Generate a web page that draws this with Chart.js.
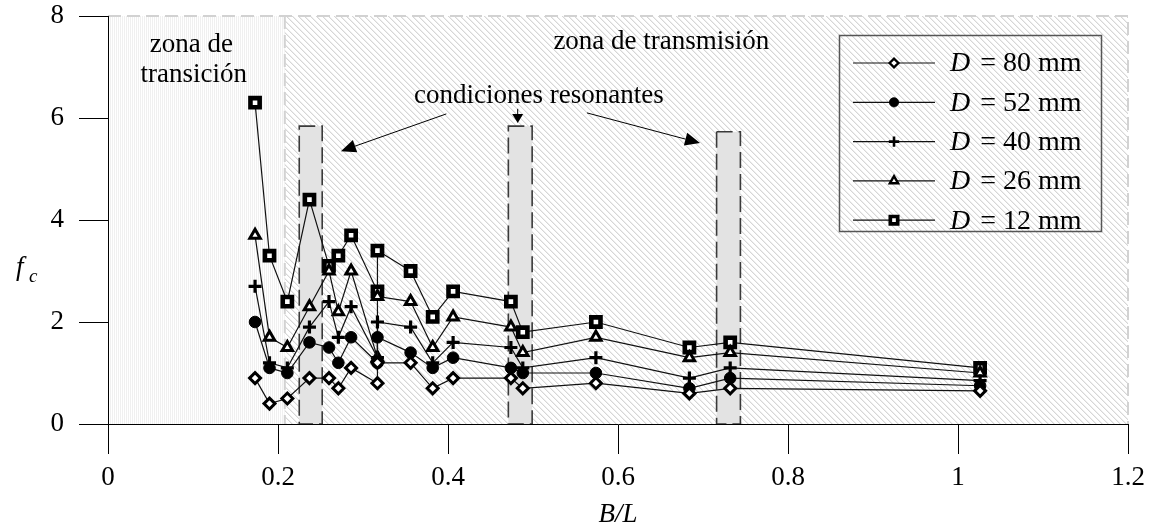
<!DOCTYPE html>
<html>
<head>
<meta charset="utf-8">
<script src="https://cdn.jsdelivr.net/npm/chart.js@4.4.1/dist/chart.umd.min.js"></script>
<style>
  html, body { margin: 0; padding: 0; background: #fff; }
  #wrap { width: 1151px; height: 530px; position: relative; }
</style>
</head>
<body>
<div id="wrap"><canvas id="chart"></canvas></div>
<script>
// Relative width B/L of each test and the measured factor f_c per pipe diameter
const bL    = [0.173, 0.190, 0.211, 0.237, 0.260, 0.271, 0.286, 0.317, 0.317, 0.356, 0.382, 0.406, 0.474, 0.488, 0.574, 0.684, 0.732, 1.026];
const fcD80 = [0.9, 0.4, 0.5, 0.9, 0.9, 0.7, 1.1, 0.8, 1.2, 1.2, 0.7, 0.9, 0.9, 0.7, 0.8, 0.6, 0.7, 0.65];
const fcD52 = [2.0, 1.1, 1.0, 1.6, 1.5, 1.2, 1.7, 1.2, 1.7, 1.4, 1.1, 1.3, 1.1, 1.0, 1.0, 0.7, 0.9, 0.75];
const fcD40 = [2.7, 1.2, 1.1, 1.9, 2.4, 1.7, 2.3, 1.3, 2.0, 1.9, 1.2, 1.6, 1.5, 1.1, 1.3, 0.9, 1.1, 0.85];
const fcD26 = [3.7, 1.7, 1.5, 2.3, 3.0, 2.2, 3.0, 1.3, 2.5, 2.4, 1.5, 2.1, 1.9, 1.4, 1.7, 1.3, 1.4, 1.0];
const fcD12 = [6.3, 3.3, 2.4, 4.4, 3.1, 3.3, 3.7, 2.6, 3.4, 3.0, 2.1, 2.6, 2.4, 1.8, 2.0, 1.5, 1.6, 1.1];
const seriesNames = ['80 mm', '52 mm', '40 mm', '26 mm', '12 mm'];

const xTickLabels = ['0', '0.2', '0.4', '0.6', '0.8', '1', '1.2'];
const yTickLabels = ['0', '2', '4', '6', '8'];

// Limit between the transition zone and the transmission zone (B/L)
const transitionLimit = 0.208;
// Resonant condition bands: B/L from, B/L to, top f_c
const resonantFrom = [0.225, 0.471, 0.716];
const resonantTo   = [0.252, 0.499, 0.744];
const resonantTop  = [5.84, 5.84, 5.73];

const SERIF = '"Liberation Serif", "Times New Roman", serif';

const markers = [
  { pointStyle: 'rectRot',  radius: 5.5, fill: '#fff', border: 3 },
  { pointStyle: 'circle',   radius: 5.8, fill: '#000', border: 1 },
  { pointStyle: 'cross',    radius: 6.5, fill: '#000', border: 3.2 },
  { pointStyle: 'triangle', radius: 6,   fill: '#fff', border: 3 },
  { pointStyle: 'rect',     radius: 6.5, fill: '#fff', border: 4.6 }
];
const values = [fcD80, fcD52, fcD40, fcD26, fcD12];

const datasets = values.map((vals, i) => ({
  label: 'D = ' + seriesNames[i],
  data: bL.map((x, k) => ({ x: x, y: vals[k] })),
  borderColor: '#111',
  borderWidth: 1.2,
  pointStyle: markers[i].pointStyle,
  pointRadius: markers[i].radius,
  pointHoverRadius: markers[i].radius,
  pointBackgroundColor: markers[i].fill,
  pointBorderColor: '#000',
  pointBorderWidth: markers[i].border,
  fill: false,
  tension: 0
}));

function verticalHatch(ctx) {
  const c = document.createElement('canvas');
  c.width = 2; c.height = 2;
  const p = c.getContext('2d');
  p.fillStyle = '#fff'; p.fillRect(0, 0, 2, 2);
  p.fillStyle = '#f0f0f0'; p.fillRect(0, 0, 1, 2);
  return ctx.createPattern(c, 'repeat');
}

function diagonalHatch(ctx) {
  const n = 6;
  const c = document.createElement('canvas');
  c.width = n; c.height = n;
  const p = c.getContext('2d');
  p.fillStyle = '#fff'; p.fillRect(0, 0, n, n);
  for (let i = 0; i < n; i++) {
    p.fillStyle = '#d6d6d6'; p.fillRect(i, i, 1, 1);
    p.fillStyle = '#eeeeee'; p.fillRect((i + 1) % n, i, 1, 1);
  }
  return ctx.createPattern(c, 'repeat');
}

function arrow(ctx, x0, y0, x1, y1, len, half) {
  const ang = Math.atan2(y1 - y0, x1 - x0);
  const bx = x1 - len * Math.cos(ang), by = y1 - len * Math.sin(ang);
  ctx.beginPath();
  ctx.moveTo(x0, y0);
  ctx.lineTo(bx, by);
  ctx.stroke();
  ctx.beginPath();
  ctx.moveTo(x1, y1);
  ctx.lineTo(bx + half * Math.sin(ang), by - half * Math.cos(ang));
  ctx.lineTo(bx - half * Math.sin(ang), by + half * Math.cos(ang));
  ctx.closePath();
  ctx.fill();
}

// Zones, resonant bands and dashed frame, painted under the axes and series
const backdrop = {
  id: 'backdrop',
  beforeDraw(chart) {
    const { ctx, chartArea: a, scales: { x, y } } = chart;
    const xb = x.getPixelForValue(transitionLimit);
    const yTop = y.getPixelForValue(8), yBot = y.getPixelForValue(0);
    const xEnd = x.getPixelForValue(1.2);
    ctx.save();
    ctx.fillStyle = verticalHatch(ctx);
    ctx.fillRect(a.left, yTop, xb - a.left, yBot - yTop);
    ctx.fillStyle = diagonalHatch(ctx);
    ctx.fillRect(xb, yTop, xEnd - xb, yBot - yTop);

    for (let i = 0; i < resonantFrom.length; i++) {
      const l = x.getPixelForValue(resonantFrom[i]);
      const r = x.getPixelForValue(resonantTo[i]);
      const t = y.getPixelForValue(resonantTop[i]);
      ctx.fillStyle = '#e3e3e3';
      ctx.fillRect(l, t, r - l, yBot - t);
      ctx.setLineDash([16, 6]);
      ctx.strokeStyle = '#3a3a3a';
      ctx.lineWidth = 1.6;
      ctx.strokeRect(l, t, r - l, yBot - t);
    }

    ctx.setLineDash([13, 6]);
    ctx.strokeStyle = '#d2d2d2';
    ctx.lineWidth = 2;
    ctx.beginPath();
    ctx.moveTo(a.left, yTop);
    ctx.lineTo(xEnd, yTop);
    ctx.lineTo(xEnd, yBot);
    ctx.moveTo(xb, yTop);
    ctx.lineTo(xb, yBot);
    ctx.stroke();
    ctx.restore();
  }
};

// Zone labels, arrows, axis titles and the legend box
const overlay = {
  id: 'overlay',
  afterDraw(chart) {
    const { ctx, chartArea: a, scales: { x, y } } = chart;
    const px = v => x.getPixelForValue(v);
    const py = v => y.getPixelForValue(v);
    ctx.save();
    ctx.fillStyle = '#000';
    ctx.strokeStyle = '#000';
    ctx.textAlign = 'center';
    ctx.textBaseline = 'middle';
    ctx.font = '27px ' + SERIF;
    ctx.fillText('zona de', px(0.098), py(7.43));
    ctx.fillText('transición', px(0.101), py(6.84));
    ctx.fillText('zona de transmisión', px(0.651), py(7.49));
    ctx.fillText('condiciones resonantes', px(0.507), py(6.43));

    ctx.lineWidth = 1;
    arrow(ctx, px(0.398), py(6.08), px(0.274), py(5.35), 15, 6.5);
    arrow(ctx, px(0.482), py(6.18), px(0.482), py(5.90), 9, 5.5);
    arrow(ctx, px(0.5635), py(6.10), px(0.6965), py(5.51), 15, 6.5);

    // axis titles
    ctx.font = 'italic 27px ' + SERIF;
    ctx.fillText('B/L', (a.left + a.right) / 2, 515);
    ctx.textAlign = 'left';
    ctx.fillText('f', 16, 268);
    ctx.font = 'italic 19px ' + SERIF;
    ctx.fillText('c', 29, 277);

    // legend
    const bx = 839.5, by = 35.5, bw = 262, bh = 196;
    ctx.setLineDash([]);
    ctx.strokeStyle = '#555';
    ctx.lineWidth = 1.5;
    ctx.strokeRect(bx, by, bw, bh);
    chart.data.datasets.forEach((ds, i) => {
      const ry = 63 + i * 39.3;
      ctx.strokeStyle = ds.borderColor;
      ctx.lineWidth = ds.borderWidth;
      ctx.beginPath();
      ctx.moveTo(853, ry);
      ctx.lineTo(935, ry);
      ctx.stroke();
      ctx.fillStyle = ds.pointBackgroundColor;
      ctx.strokeStyle = ds.pointBorderColor;
      ctx.lineWidth = ds.pointBorderWidth * 0.8;
      Chart.helpers.drawPoint(ctx, {
        pointStyle: ds.pointStyle, radius: ds.pointRadius * 0.8,
        rotation: 0, borderWidth: ds.pointBorderWidth * 0.8
      }, 894, ry);
      ctx.fillStyle = '#000';
      ctx.textAlign = 'left';
      ctx.font = 'italic 28px ' + SERIF;
      ctx.fillText('D', 950, ry + 1);
      const dw = ctx.measureText('D').width;
      ctx.font = '28px ' + SERIF;
      ctx.fillText(' = ' + seriesNames[i], 950 + dw + 3, ry + 1);
    });
    ctx.restore();
  }
};

new Chart(document.getElementById('chart'), {
  type: 'line',
  data: { datasets: datasets },
  plugins: [backdrop, overlay],
  options: {
    responsive: true,
    maintainAspectRatio: false,
    animation: false,
    layout: { padding: { top: 0, right: 0, left: 0, bottom: 0 } },
    plugins: { legend: { display: false }, tooltip: { enabled: false } },
    scales: {
      x: {
        type: 'linear',
        min: 0, max: 1.2,
        afterFit(scale) {
          scale.height = 106;
          scale.paddingLeft = 0;
          scale.paddingRight = 23;
        },
        afterBuildTicks(scale) { scale.ticks = xTickLabels.map(t => ({ value: parseFloat(t) })); },
        ticks: {
          callback: (v, i) => xTickLabels[i],
          color: '#000',
          padding: 8,
          maxRotation: 0,
          font: { family: SERIF, size: 27 }
        },
        grid: { drawOnChartArea: false, drawTicks: true, tickLength: 30, color: '#000', lineWidth: 1 },
        border: { display: true, color: '#000', width: 1 }
      },
      y: {
        type: 'linear',
        min: 0, max: 8,
        afterFit(scale) {
          scale.width = 108;
          scale.paddingTop = 16;
          scale.paddingBottom = 0;
        },
        afterBuildTicks(scale) { scale.ticks = yTickLabels.map(t => ({ value: parseFloat(t) })); },
        ticks: {
          callback: (v, i) => yTickLabels[i],
          color: '#000',
          padding: 15,
          font: { family: SERIF, size: 27 }
        },
        grid: { drawOnChartArea: false, drawTicks: true, tickLength: 29, color: '#000', lineWidth: 1 },
        border: { display: true, color: '#000', width: 1 }
      }
    }
  }
});
</script>
</body>
</html>
